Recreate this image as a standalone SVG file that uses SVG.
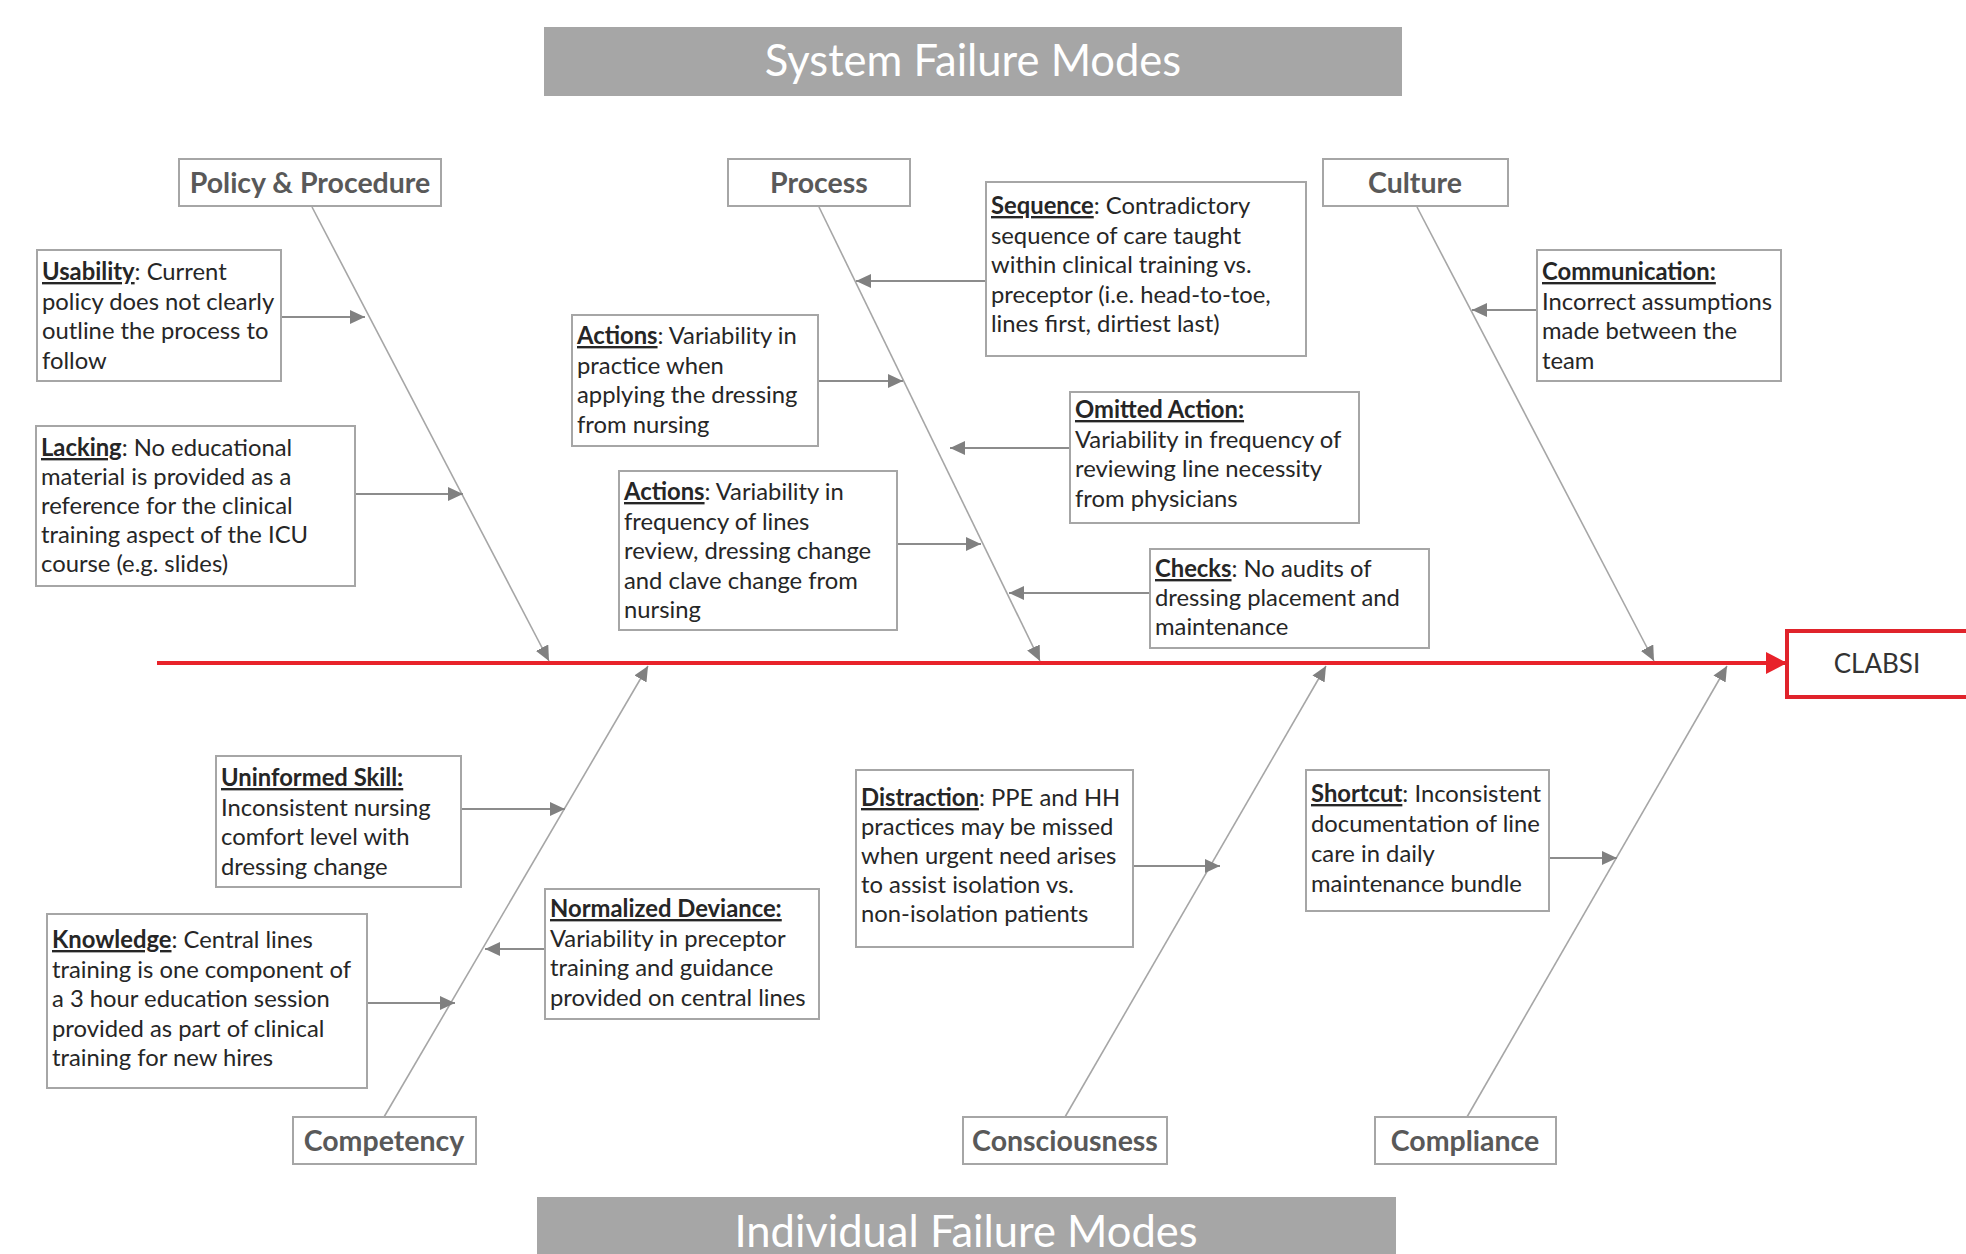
<svg xmlns="http://www.w3.org/2000/svg" width="1966" height="1254" viewBox="0 0 1966 1254">
<defs>
<style>
.bg{fill:#ffffff}
.banner{fill:#a6a6a6}
.bannerText{font-family:Lato,"Liberation Sans",sans-serif;font-size:43.5px;fill:#ffffff;text-anchor:middle}
.cat{fill:#ffffff;stroke:#a6a6a6;stroke-width:2}
.catText{font-family:Lato,"Liberation Sans",sans-serif;font-size:28.5px;font-weight:bold;fill:#595959;text-anchor:middle}
.box{fill:#ffffff;stroke:#a6a6a6;stroke-width:2}
.t{font-family:Lato,"Liberation Sans",sans-serif;font-size:23.8px;fill:#262626}
.k{font-weight:bold;text-decoration:underline}
.bone{stroke:#a6a6a6;stroke-width:1.6;fill:none}
.arr{stroke:#8c8c8c;stroke-width:2;fill:none}
.spine{stroke:#e8222a;stroke-width:4;fill:none}
.effect{fill:#ffffff;stroke:#e0232b;stroke-width:4}
.effectText{font-family:Lato,"Liberation Sans",sans-serif;font-size:26px;fill:#333333;text-anchor:middle}
</style>
<marker id="ah" markerUnits="userSpaceOnUse" markerWidth="16" markerHeight="14" refX="15" refY="7" orient="auto">
<path d="M0,0 L15,7 L0,14 Z" fill="#808080"/>
</marker>
<marker id="ahr" markerUnits="userSpaceOnUse" markerWidth="22" markerHeight="22" refX="21" refY="11" orient="auto">
<path d="M0,0 L21,11 L0,22 Z" fill="#e8222a"/>
</marker>
</defs>
<rect class="bg" x="0" y="0" width="1966" height="1254"/>

<g id="banner-system">
<rect class="banner" x="544" y="27" width="858" height="69"/>
<text class="bannerText" x="973" y="76">System Failure Modes</text>
</g>
<g id="banner-individual">
<rect class="banner" x="537" y="1197" width="859" height="60"/>
<text class="bannerText" x="966" y="1247">Individual Failure Modes</text>
</g>

<g id="connectors">
<line class="spine" x1="157" y1="663" x2="1787" y2="663" marker-end="url(#ahr)"/>
<line class="bone" x1="312" y1="207" x2="549" y2="661" marker-end="url(#ah)"/>
<line class="bone" x1="819" y1="207" x2="1040" y2="661" marker-end="url(#ah)"/>
<line class="bone" x1="1417" y1="207" x2="1654" y2="661" marker-end="url(#ah)"/>
<line class="bone" x1="384" y1="1117" x2="648" y2="666" marker-end="url(#ah)"/>
<line class="bone" x1="1065" y1="1117" x2="1326" y2="666" marker-end="url(#ah)"/>
<line class="bone" x1="1467" y1="1117" x2="1727" y2="666" marker-end="url(#ah)"/>
<line class="arr" x1="281" y1="317" x2="365" y2="317" marker-end="url(#ah)"/>
<line class="arr" x1="355" y1="494" x2="463" y2="494" marker-end="url(#ah)"/>
<line class="arr" x1="818" y1="381" x2="903" y2="381" marker-end="url(#ah)"/>
<line class="arr" x1="897" y1="544" x2="981" y2="544" marker-end="url(#ah)"/>
<line class="arr" x1="986" y1="281" x2="856" y2="281" marker-end="url(#ah)"/>
<line class="arr" x1="1070" y1="448" x2="950" y2="448" marker-end="url(#ah)"/>
<line class="arr" x1="1150" y1="593" x2="1009" y2="593" marker-end="url(#ah)"/>
<line class="arr" x1="1537" y1="310" x2="1472" y2="310" marker-end="url(#ah)"/>
<line class="arr" x1="461" y1="809" x2="565" y2="809" marker-end="url(#ah)"/>
<line class="arr" x1="367" y1="1003" x2="455" y2="1003" marker-end="url(#ah)"/>
<line class="arr" x1="545" y1="949" x2="485" y2="949" marker-end="url(#ah)"/>
<line class="arr" x1="1133" y1="866" x2="1220" y2="866" marker-end="url(#ah)"/>
<line class="arr" x1="1549" y1="858" x2="1617" y2="858" marker-end="url(#ah)"/>
</g>

<g id="cat-policy"><rect class="cat" x="179" y="159" width="262" height="47"/><text class="catText" x="310" y="193">Policy &amp; Procedure</text></g>
<g id="cat-process"><rect class="cat" x="728" y="159" width="182" height="47"/><text class="catText" x="819" y="193">Process</text></g>
<g id="cat-culture"><rect class="cat" x="1323" y="159" width="185" height="47"/><text class="catText" x="1415" y="193">Culture</text></g>
<g id="cat-competency"><rect class="cat" x="293" y="1117" width="183" height="47"/><text class="catText" x="384" y="1151">Competency</text></g>
<g id="cat-consciousness"><rect class="cat" x="963" y="1117" width="204" height="47"/><text class="catText" x="1065" y="1151">Consciousness</text></g>
<g id="cat-compliance"><rect class="cat" x="1375" y="1117" width="181" height="47"/><text class="catText" x="1465" y="1151">Compliance</text></g>

<g id="effect-clabsi"><rect class="effect" x="1787" y="631" width="200" height="66"/><text class="effectText" x="1877" y="673">CLABSI</text></g>

<g id="cause-usability"><rect class="box" x="37" y="250" width="244" height="131"/>
<text class="t" x="42" y="280"><tspan class="k">Usability</tspan>: Current</text>
<text class="t" x="42" y="309.5">policy does not clearly</text>
<text class="t" x="42" y="339">outline the process to</text>
<text class="t" x="42" y="368.5">follow</text></g>

<g id="cause-lacking"><rect class="box" x="36" y="426" width="319" height="160"/>
<text class="t" x="41" y="456"><tspan class="k">Lacking</tspan>: No educational</text>
<text class="t" x="41" y="485">material is provided as a</text>
<text class="t" x="41" y="514">reference for the clinical</text>
<text class="t" x="41" y="543">training aspect of the ICU</text>
<text class="t" x="41" y="572">course (e.g. slides)</text></g>

<g id="cause-actions1"><rect class="box" x="572" y="315" width="246" height="131"/>
<text class="t" x="577" y="344"><tspan class="k">Actions</tspan>: Variability in</text>
<text class="t" x="577" y="373.5">practice when</text>
<text class="t" x="577" y="403">applying the dressing</text>
<text class="t" x="577" y="432.5">from nursing</text></g>

<g id="cause-actions2"><rect class="box" x="619" y="471" width="278" height="159"/>
<text class="t" x="624" y="500"><tspan class="k">Actions</tspan>: Variability in</text>
<text class="t" x="624" y="529.5">frequency of lines</text>
<text class="t" x="624" y="559">review, dressing change</text>
<text class="t" x="624" y="588.5">and clave change from</text>
<text class="t" x="624" y="618">nursing</text></g>

<g id="cause-sequence"><rect class="box" x="986" y="182" width="320" height="174"/>
<text class="t" x="991" y="214"><tspan class="k">Sequence</tspan>: Contradictory</text>
<text class="t" x="991" y="243.5">sequence of care taught</text>
<text class="t" x="991" y="273">within clinical training vs.</text>
<text class="t" x="991" y="302.5">preceptor (i.e. head-to-toe,</text>
<text class="t" x="991" y="332">lines first, dirtiest last)</text></g>

<g id="cause-omitted"><rect class="box" x="1070" y="392" width="289" height="131"/>
<text class="t" x="1075" y="418"><tspan class="k">Omitted Action:</tspan></text>
<text class="t" x="1075" y="447.5">Variability in frequency of</text>
<text class="t" x="1075" y="477">reviewing line necessity</text>
<text class="t" x="1075" y="506.5">from physicians</text></g>

<g id="cause-checks"><rect class="box" x="1150" y="549" width="279" height="99"/>
<text class="t" x="1155" y="577"><tspan class="k">Checks</tspan>: No audits of</text>
<text class="t" x="1155" y="606">dressing placement and</text>
<text class="t" x="1155" y="635">maintenance</text></g>

<g id="cause-communication"><rect class="box" x="1537" y="250" width="244" height="131"/>
<text class="t" x="1542" y="280"><tspan class="k">Communication:</tspan></text>
<text class="t" x="1542" y="309.5">Incorrect assumptions</text>
<text class="t" x="1542" y="339">made between the</text>
<text class="t" x="1542" y="368.5">team</text></g>

<g id="cause-uninformed"><rect class="box" x="216" y="756" width="245" height="131"/>
<text class="t" x="221" y="786"><tspan class="k">Uninformed Skill:</tspan></text>
<text class="t" x="221" y="815.5">Inconsistent nursing</text>
<text class="t" x="221" y="845">comfort level with</text>
<text class="t" x="221" y="874.5">dressing change</text></g>

<g id="cause-knowledge"><rect class="box" x="47" y="914" width="320" height="174"/>
<text class="t" x="52" y="948"><tspan class="k">Knowledge</tspan>: Central lines</text>
<text class="t" x="52" y="977.5">training is one component of</text>
<text class="t" x="52" y="1007">a 3 hour education session</text>
<text class="t" x="52" y="1036.5">provided as part of clinical</text>
<text class="t" x="52" y="1066">training for new hires</text></g>

<g id="cause-normalized"><rect class="box" x="545" y="889" width="274" height="130"/>
<text class="t" x="550" y="917"><tspan class="k">Normalized Deviance:</tspan></text>
<text class="t" x="550" y="946.5">Variability in preceptor</text>
<text class="t" x="550" y="976">training and guidance</text>
<text class="t" x="550" y="1005.5">provided on central lines</text></g>

<g id="cause-distraction"><rect class="box" x="856" y="770" width="277" height="177"/>
<text class="t" x="861" y="806"><tspan class="k">Distraction</tspan>: PPE and HH</text>
<text class="t" x="861" y="835">practices may be missed</text>
<text class="t" x="861" y="864">when urgent need arises</text>
<text class="t" x="861" y="893">to assist isolation vs.</text>
<text class="t" x="861" y="922">non-isolation patients</text></g>

<g id="cause-shortcut"><rect class="box" x="1306" y="770" width="243" height="141"/>
<text class="t" x="1311" y="802"><tspan class="k">Shortcut</tspan>: Inconsistent</text>
<text class="t" x="1311" y="832">documentation of line</text>
<text class="t" x="1311" y="862">care in daily</text>
<text class="t" x="1311" y="892">maintenance bundle</text></g>
</svg>
